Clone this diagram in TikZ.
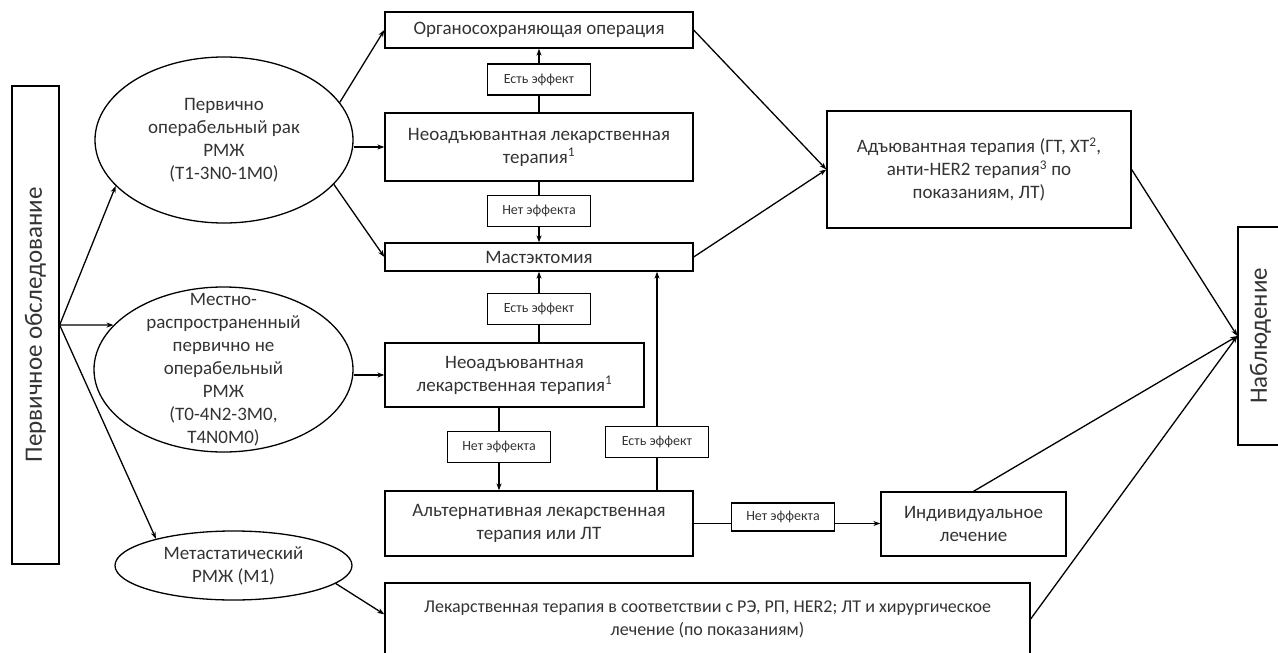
\documentclass[tikz,border=0pt]{standalone}
\usepackage{fontspec}
\setmainfont{Carlito}
\usetikzlibrary{shapes.geometric,arrows.meta}

\begin{document}
\begin{tikzpicture}
  [
    x=1pt, y=-1pt,
    >={Stealth[length=7pt,width=5pt]},
    block/.style =
      {draw, rectangle, align=center, line width=1.3pt, text=black!80,
       font=\fontsize{19}{23}\selectfont},
    sideblock/.style =
      {block, rotate=90, font=\fontsize{25}{28}\selectfont},
    oval/.style =
      {draw, ellipse, line width=1.3pt, inner sep=0pt},
    ovaltext/.style =
      {align=center, text=black!80, font=\fontsize{19}{23}\selectfont},
    effbox/.style =
      {draw, rectangle, line width=1.3pt, text=black!80, minimum width=103pt,
       minimum height=31pt, font=\fontsize{14}{16}\selectfont},
    sarrow/.style =
      {->, line width=1.3pt},
    sline/.style =
      {line width=1.3pt}
  ]

\useasboundingbox (0,0) rectangle (1278,653);
\clip (0,0) rectangle (1278,653);

\node[sideblock, minimum width=478pt, minimum height=47pt] (exam) at (35.5,325) {Первичное обследование};

\node[oval, minimum width=258pt, minimum height=166pt] (ell1) at (224,140) {};
\node[ovaltext] (ell1txt) at (ell1.center) {Первично\\операбельный рак\\РМЖ\\(T1-3N0-1M0)};
\node[oval, minimum width=259pt, minimum height=165pt] (ell2) at (223.5,369.5) {};
\node[ovaltext] (ell2txt) at (ell2.center) {Местно-\\распространенный\\первично не\\операбельный\\РМЖ\\(T0-4N2-3M0,\\T4N0M0)};
\node[oval, minimum width=237pt, minimum height=69pt] (ell3) at (233.5,565.5) {};
\node[ovaltext] (ell3txt) at (ell3.center) {Метастатический\\РМЖ (M1)};

\node[block, minimum width=308pt, minimum height=36pt] (org) at (539,30) {Органосохраняющая операция};
\node[effbox] (eff1) at (539,79.5) {Есть эффект};
\node[block, minimum width=308pt, minimum height=68pt] (neo1) at (539,147) {Неоадъювантная лекарственная\\терапия\textsuperscript{1}};
\node[effbox] (none1) at (539,211) {Нет эффекта};
\node[block, minimum width=308pt, minimum height=28pt] (mast) at (539,257) {Мастэктомия};
\node[effbox] (eff2) at (539,309) {Есть эффект};
\node[block, minimum width=259pt, minimum height=64pt] (neo2) at (514.5,375) {Неоадъювантная\\лекарственная терапия\textsuperscript{1}};
\node[effbox] (none2) at (499,447) {Нет эффекта};
\node[effbox] (eff3) at (657,442) {Есть эффект};
\node[block, minimum width=308pt, minimum height=65pt] (alt) at (539,523.5) {Альтернативная лекарственная\\терапия или ЛТ};
\node[effbox, minimum height=28pt] (none3) at (783,517) {Нет эффекта};
\node[block, minimum width=185pt, minimum height=64pt] (indiv) at (973.5,524) {Индивидуальное\\лечение};
\node[block, minimum width=645pt, minimum height=72pt, font=\fontsize{18}{23}\selectfont] (lek) at (707.5,619) {Лекарственная терапия в соответствии с РЭ, РП, HER2; ЛТ и хирургическое\\лечение (по показаниям)};
\node[block, minimum width=304pt, minimum height=117pt] (adj) at (979,169.5) {Адъювантная терапия (ГТ, ХТ\textsuperscript{2},\\анти-HER2 терапия\textsuperscript{3} по\\показаниям, ЛТ)};
\node[sideblock, minimum width=218pt, minimum height=45pt] (obs) at (1260.5,336) {Наблюдение};

\draw[sarrow] (exam.south) -- (ell1.203);
\draw[sarrow] (exam.south) -- (ell2.158);
\draw[sarrow] (exam.south) -- (ell3.161);

\draw[sarrow] (ell1.18) -- (org.west);
\draw[sarrow] (ell1.east |- neo1.west) -- (neo1.west);
\draw[sarrow] (ell1.-22) -- (mast.west);
\draw[sarrow] (ell2.east |- neo2.west) -- (neo2.west);
\draw[sarrow] (ell3.-10) -- ([yshift=-32pt]lek.north west);

\draw[sline] (neo1.north) -- (eff1.south);
\draw[sarrow] (eff1.north) -- (org.south);
\draw[sline] (neo1.south) -- (none1.north);
\draw[sarrow] (none1.south) -- (mast.north);
\draw[sline] (neo2.north -| eff2.south) -- (eff2.south);
\draw[sarrow] (eff2.north) -- (mast.south);
\draw[sline] (neo2.south -| none2.north) -- (none2.north);
\draw[sarrow] (none2.south) -- (none2.south |- alt.north);
\draw[sline] (alt.north -| eff3.south) -- (eff3.south);
\draw[sarrow] (eff3.north) -- (eff3.north |- mast.south);
\draw[sline] (alt.east) -- (alt.east -| none3.west);
\draw[sarrow] (alt.east -| none3.east) -- (alt.east -| indiv.west);

\draw[sarrow] (org.east) -- (adj.west);
\draw[sarrow] (mast.east) -- (adj.west);
\draw[sarrow] (adj.east) -- (obs.north);
\draw[sarrow] (indiv.north) -- (obs.north);
\draw[sarrow] (lek.east) -- (obs.north);

\end{tikzpicture}
\end{document}
